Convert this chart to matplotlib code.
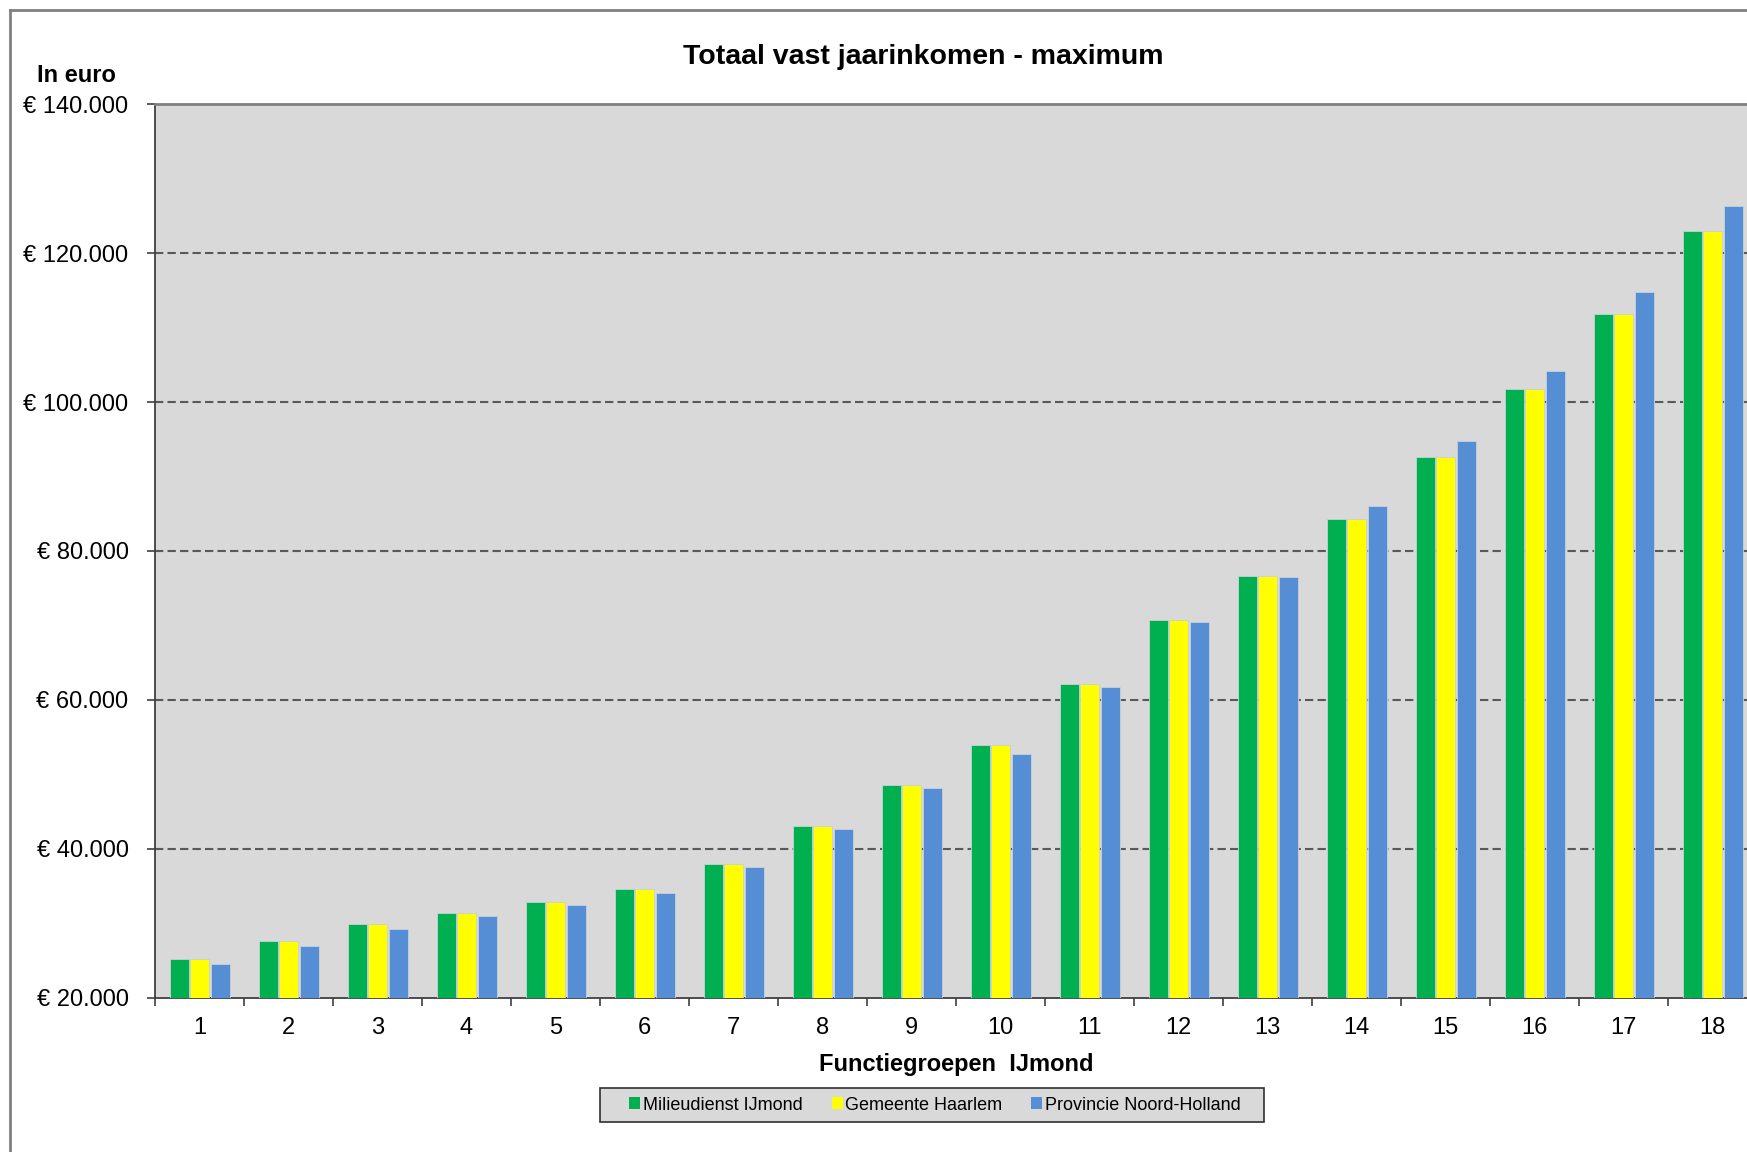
import numpy as np
import matplotlib
matplotlib.use("Agg")
import matplotlib.pyplot as plt
from matplotlib.lines import Line2D
from matplotlib.patches import Rectangle
from matplotlib.ticker import FuncFormatter, FixedLocator

plt.rcParams['font.family'] = ['Liberation Sans', 'DejaVu Sans']

groups = [str(i) for i in range(1, 19)]
series = ['Milieudienst IJmond', 'Gemeente Haarlem', 'Provincie Noord-Holland']
milieudienst = [25200, 27600, 29900, 31400, 32900, 34600, 37900, 43000, 48600,
                54000, 62200, 70700, 76700, 84300, 92600, 101800, 111800, 123000]
haarlem = [25200, 27600, 29900, 31400, 32900, 34600, 37900, 43000, 48600,
           54000, 62200, 70700, 76700, 84300, 92600, 101800, 111800, 123000]
noord_holland = [24500, 26900, 29200, 31000, 32500, 34000, 37600, 42600, 48100,
                 52800, 61700, 70400, 76500, 86100, 94800, 104200, 114800, 126300]
colors = ['#00B050', '#FFFF00', '#558ED5']

W, H = 1747, 1152
fig = plt.figure(figsize=(W / 100, H / 100), dpi=100)
ax = fig.add_axes([155 / W, 1 - 997.7 / H, 1602 / W, 893.4 / H])
ax.set_facecolor('#D9D9D9')

x = np.arange(1, len(groups) + 1)
offsets = [-0.226, 0.0, 0.232]
width = 0.215
for vals, off, c, name in zip([milieudienst, haarlem, noord_holland], offsets, colors, series):
    ax.bar(x + off, vals, width=width, color=c, edgecolor='#c8d0d8', linewidth=0.6,
           label=name, zorder=3)

ax.set_xlim(0.5, len(groups) + 0.5)
ax.set_ylim(20000, 140000)
ax.set_yticks(np.arange(20000, 140001, 20000))
ax.yaxis.set_major_formatter(FuncFormatter(lambda v, p: '€ ' + f'{int(v):,}'.replace(',', '.')))
ax.set_xticks(x)
ax.set_xticklabels(groups)
ax.xaxis.set_minor_locator(FixedLocator(np.arange(0.5, len(groups) + 1, 1)))
ax.tick_params(axis='x', which='major', length=0, labelsize=17, pad=14)
ax.tick_params(axis='x', which='minor', length=6, width=1.2, color='#404040', direction='out')
ax.tick_params(axis='y', length=6, width=1.2, color='#404040', labelsize=17, pad=13)

for yv in range(40000, 140000, 20000):
    ax.axhline(yv, color='#595959', linewidth=1.5, linestyle=(0, (4, 2)), zorder=1)

for s in ['left', 'bottom']:
    ax.spines[s].set_color('#404040')
    ax.spines[s].set_linewidth(1.3)
ax.spines['top'].set_color('#808080')
ax.spines['top'].set_linewidth(2)
ax.spines['right'].set_visible(False)

ax.set_xlabel('Functiegroepen  IJmond', fontsize=17, fontweight='bold', labelpad=10)

fig.text(923.6 / W, 1 - 57 / H, 'Totaal vast jaarinkomen - maximum',
         ha='center', va='center', fontsize=20.5, fontweight='bold')
fig.text(76 / W, 1 - 75 / H, 'In euro', ha='center', va='center',
         fontsize=17, fontweight='bold')

# legend box drawn separately to get the wide inner padding of the original
fig.add_artist(Rectangle((600 / W, 1 - 1122 / H), 664 / W, 34 / H, transform=fig.transFigure,
                         facecolor='#D9D9D9', edgecolor='#303030', linewidth=1.2))
leg = fig.legend(loc='center', bbox_to_anchor=(935 / W, 1 - 1105 / H), ncol=3,
                 fontsize=13, handlelength=0.6, handleheight=0.6, handletextpad=0.15,
                 columnspacing=1.6, frameon=False)
for h in leg.legend_handles:
    h.set_edgecolor('none')

# outer chart border (right and bottom are cropped off)
fig.add_artist(Line2D([10 / W, 10 / W], [0, 1 - 10 / H], transform=fig.transFigure,
                      color='#808080', linewidth=2))
fig.add_artist(Line2D([10 / W, 1], [1 - 10 / H, 1 - 10 / H], transform=fig.transFigure,
                      color='#808080', linewidth=2))

fig.savefig('out.png', dpi=100, facecolor='white')
